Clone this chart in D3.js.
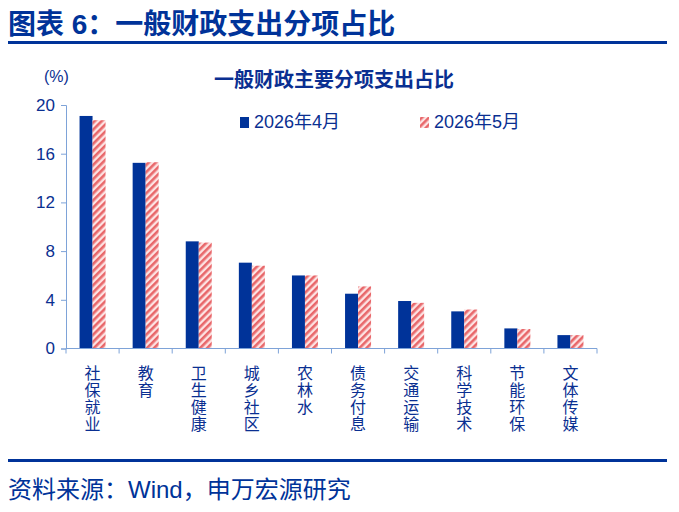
<!DOCTYPE html>
<html>
<head>
<meta charset="utf-8">
<script src="https://cdn.jsdelivr.net/npm/d3@7"></script>
<style>
  body { margin: 0; background: #fff; }
  svg text { font-family: "Liberation Sans", Arial, "Noto Sans CJK SC", sans-serif; }
</style>
</head>
<body>
<div id="chart"></div>
<script>
// data
const categories = ["社保就业", "教育", "卫生健康", "城乡社区", "农林水", "债务付息", "交通运输", "科学技术", "节能环保", "文体传媒"]
const seriesNames = ["2026年4月", "2026年5月"]
const apr = [19.1, 15.25, 8.8, 7.05, 6.0, 4.5, 3.9, 3.05, 1.65, 1.1]
const may = [18.75, 15.3, 8.7, 6.8, 6.0, 5.1, 3.75, 3.2, 1.6, 1.1]
const yTicks = [0, 4, 8, 12, 16, 20]

const W = 679, H = 512
const navy = "#0a2f91", barBlue = "#003399", axisCol = "#7ea3d8"
const m = {top: 105, left: 66, right: 82, bottom: 163}

const svg = d3.select("#chart").append("svg")
  .attr("width", W).attr("height", H)

// hatch for the second series
const pat = svg.append("defs").append("pattern")
  .attr("id", "hatch")
  .attr("patternUnits", "userSpaceOnUse")
  .attr("width", 5).attr("height", 5)
  .attr("patternTransform", "rotate(45)")
pat.append("rect").attr("width", 5).attr("height", 5).attr("fill", "#fde3e3")
pat.append("rect").attr("width", 2.6).attr("height", 5).attr("fill", "#e8676a")

// header
svg.append("text").attr("x", 8).attr("y", 34)
  .attr("fill", barBlue).attr("font-size", 28).attr("font-weight", "bold")
  .text("图表 6：一般财政支出分项占比")
svg.append("rect").attr("x", 8).attr("y", 41).attr("width", 659).attr("height", 3).attr("fill", barBlue)

svg.append("text").attr("x", 334).attr("y", 87).attr("text-anchor", "middle")
  .attr("fill", navy).attr("font-size", 20).attr("font-weight", "bold")
  .text("一般财政主要分项支出占比")
svg.append("text").attr("x", 44).attr("y", 82)
  .attr("fill", navy).attr("font-size", 16).text("(%)")

const x = d3.scaleBand().domain(categories).range([m.left, W - m.right])
const xs = d3.scaleBand().domain(seriesNames).range([0, 26])
const y = d3.scaleLinear().domain([0, 20]).range([H - m.bottom - 0.5, m.top])

const rows = categories.map((c, i) => ({cat: c, vals: [apr[i], may[i]]}))

const g = svg.append("g")
g.selectAll("g.cat").data(rows).join("g")
  .attr("transform", d => `translate(${x(d.cat) + x.bandwidth() / 2 - 13},0)`)
  .selectAll("rect").data(d => d.vals.map((v, k) => ({k, v})))
  .join("rect")
  .attr("x", d => xs(seriesNames[d.k]))
  .attr("width", xs.bandwidth())
  .attr("y", d => y(d.v))
  .attr("height", d => y(0) - y(d.v))
  .attr("fill", d => d.k === 0 ? barBlue : "url(#hatch)")

// y axis
const yAxis = svg.append("g").attr("transform", `translate(${m.left},0)`)
  .call(d3.axisLeft(y).tickValues(yTicks).tickSize(5).tickPadding(6))
yAxis.selectAll("line,path").attr("stroke", axisCol)
yAxis.selectAll("text").attr("fill", navy).attr("font-size", 17)
  .attr("font-family", "Liberation Sans, Arial, sans-serif")

// x axis, ticks on category boundaries
const xAxis = svg.append("g").attr("transform", `translate(0,${y(0)})`)
xAxis.append("line").attr("x1", m.left).attr("x2", W - m.right).attr("stroke", axisCol)
xAxis.selectAll("line.tk").data(categories.concat(["end"])).join("line")
  .attr("class", "tk")
  .attr("x1", (d, i) => i < categories.length ? x(d) : x(categories[categories.length - 1]) + x.bandwidth())
  .attr("x2", (d, i) => i < categories.length ? x(d) : x(categories[categories.length - 1]) + x.bandwidth())
  .attr("y2", 5).attr("stroke", axisCol)

// vertical category labels
const lab = svg.append("g")
categories.forEach(c => {
  const t = lab.append("text").attr("text-anchor", "middle")
    .attr("fill", navy).attr("font-size", 16)
  c.split("").forEach((ch, j) => {
    t.append("tspan").attr("x", x(c) + x.bandwidth() / 2)
      .attr("y", 379 + j * 17).text(ch)
  })
})

// legend
const leg = svg.append("g").attr("transform", "translate(240,128)")
const lx = [0, 180]
seriesNames.forEach((s, k) => {
  leg.append("rect").attr("x", lx[k]).attr("y", -11).attr("width", 9).attr("height", 11)
    .attr("fill", k === 0 ? barBlue : "url(#hatch)")
  leg.append("text").attr("x", lx[k] + 14).attr("y", 0)
    .attr("fill", navy).attr("font-size", 18).text(s)
})

// footer
svg.append("rect").attr("x", 8).attr("y", 459).attr("width", 659).attr("height", 3).attr("fill", barBlue)
svg.append("text").attr("x", 8).attr("y", 498)
  .attr("fill", barBlue).attr("font-size", 24)
  .text("资料来源：Wind，申万宏源研究")
</script>
</body>
</html>
